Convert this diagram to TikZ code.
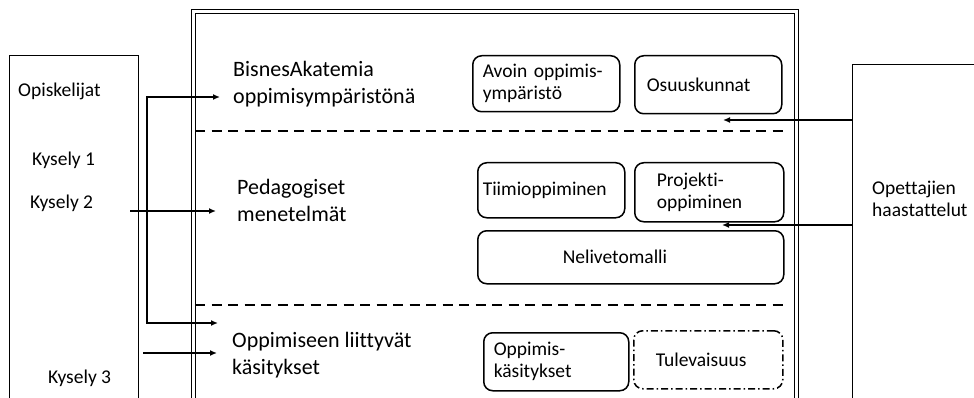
\documentclass[tikz,border=0pt]{standalone}
\usepackage{fontspec}
\setmainfont{Carlito}[Ligatures=NoCommon]
\usetikzlibrary{positioning, arrows.meta}

\tikzset{
  lbl/.style={font=\fontsize{22}{27}\selectfont, align=left, inner sep=0pt, anchor=base west},
  txt/.style={font=\fontsize{19.5}{22}\selectfont, align=left, inner sep=0pt, anchor=base west},
  rbox/.style={draw, line width=1.5pt, rounded corners=9pt, anchor=north west,
    font=\fontsize{19.5}{22}\selectfont, align=left, inner ysep=0pt},
  dbox/.style={rbox, dash pattern=on 7pt off 3pt on 1.5pt off 3pt},
  outer/.style={draw, line width=1.3pt, inner sep=0pt, anchor=north west},
  arr/.style={line width=1.5pt, -{Latex[length=7pt,width=6pt]}},
  sep/.style={line width=2.6pt, dash pattern=on 10pt off 6.5pt},
}

\begin{document}
\begin{tikzpicture}[x=1pt,y=-1pt]
\useasboundingbox (0,0) rectangle (974,398);
\clip (0,0) rectangle (974,398);

% outer boxes
\node[outer, minimum width=129pt, minimum height=380pt] (students) at (9,55) {};
\node[outer, minimum width=150pt, minimum height=380pt] (teachers) at (852,64) {};
\node[outer, double, double distance=2.8pt, line width=1.2pt,
      minimum width=602.5pt, minimum height=420pt] (frame) at (193,11) {};

% dashed separators
\draw[sep] (195,131) -- (789,131);
\draw[sep] (195,305) -- (789,305);

% texts (multi-line nodes sit on their last baseline)
\node[txt] (opisk) at (18,97) {Opiskelijat};
\node[txt] (kys1) at (32,166) {Kysely 1};
\node[txt] (kys2) at (30,208) {Kysely 2};
\node[txt] (kys3) at (48,383) {Kysely 3};
\node[txt] (opett) at (872,217) {Opettajien\\haastattelut};

\node[lbl] (bisnes) at (233,104) {BisnesAkatemia\\oppimisympäristönä};
\node[lbl] (pedag) at (237,222) {Pedagogiset\\menetelmät};
\node[lbl] (oppim) at (232,374) {Oppimiseen liittyvät\\käsitykset};

% rounded boxes
\foreach \nm/\x/\y/\w/\h/\p/\tw/\t in {
  avoin/472/55/147/56/10/127/{Avoin oppimis-\\ympäristö},
  osuus/634/55/147/58/12/123/{Osuuskunnat},
  tiimi/477/162/147/55/5/137/{Tiimioppiminen},
  projekti/634/162/149/59/22/105/{Projekti-\\oppiminen},
  neli/477/230/306/53/85/136/{Nelivetomalli},
  oppkas/483/332/145/58/10/125/{Oppimis-\\käsitykset}}
  \node[rbox, minimum height=\h pt, inner xsep=\p pt, text width=\tw pt] (\nm) at (\x,\y) {\t};
\node[dbox, minimum height=58pt, inner xsep=22pt, text width=105pt] (tulev) at (633,330) {Tulevaisuus};

% connectors
\coordinate (spineT) at (147,97);
\coordinate (spineB) at (147,323);
\coordinate (k2) at (130,211);
\coordinate (k3) at (143,353);
\coordinate (r1) at (723,120);
\coordinate (r2) at (722,225);

\draw[line width=1.5pt, {Latex[length=7pt,width=6pt]}-{Latex[length=7pt,width=6pt]}]
  ([xshift=-13pt]bisnes.west |- spineT) -- (spineT) -- (spineB)
  -- ([xshift=-14pt]oppim.west |- spineB);
\draw[arr] (k2) -- ([xshift=-21pt]pedag.west |- k2);
\draw[arr] (k3) -- ([xshift=-15pt]oppim.west |- k3);
\draw[arr] (teachers.west |- r1) -- (r1);
\draw[arr] (teachers.west |- r2) -- (r2);
\end{tikzpicture}
\end{document}
